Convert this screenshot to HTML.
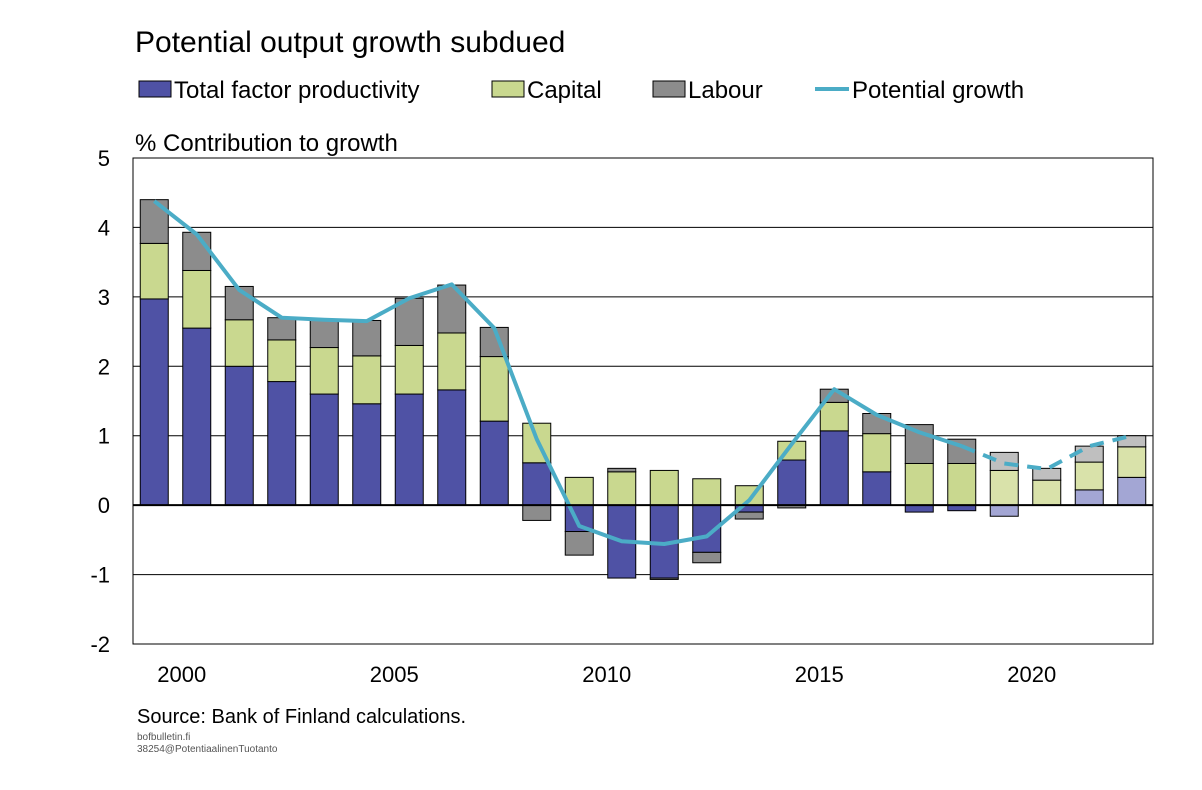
<!DOCTYPE html>
<html><head><meta charset="utf-8"><style>
body{margin:0;background:#fff;font-family:"Liberation Sans",sans-serif;}
</style></head><body>
<svg width="1202" height="785" xmlns="http://www.w3.org/2000/svg" font-family="Liberation Sans, sans-serif">
<text x="135" y="52" font-size="30" fill="#000">Potential output growth subdued</text>
<g font-size="24">
<g><rect x="139" y="81" width="32" height="16" fill="#4F52A5" stroke="#000"/><text x="174" y="98">Total factor productivity</text></g>
<g><rect x="492" y="81" width="32" height="16" fill="#C9D88F" stroke="#000"/><text x="527" y="98">Capital</text></g>
<g><rect x="653" y="81" width="32" height="16" fill="#8C8C8C" stroke="#000"/><text x="688" y="98">Labour</text></g>
<g><line x1="815" y1="89" x2="849" y2="89" stroke="#4BACC6" stroke-width="4"/><text x="852" y="98">Potential growth</text></g>
</g>
<text x="135" y="151" font-size="24">% Contribution to growth</text>
<g id="grid"></g>
<g id="bars"></g>
<g id="lines"></g>
<g id="axes"></g>
<text x="137" y="723" font-size="20">Source: Bank of Finland calculations.</text>
<text x="137" y="740" font-size="10" fill="#555">bofbulletin.fi</text>
<text x="137" y="752" font-size="10" fill="#555">38254@PotentiaalinenTuotanto</text>
</svg>
<script>
const years=[1999,2000,2001,2002,2003,2004,2005,2006,2007,2008,2009,2010,2011,2012,2013,2014,2015,2016,2017,2018,2019,2020,2021,2022];
const tfp=[2.97,2.55,2.0,1.78,1.6,1.46,1.6,1.66,1.21,0.61,-0.38,-1.05,-1.05,-0.68,-0.1,0.65,1.07,0.48,-0.1,-0.08,-0.16,0,0.22,0.4];
const capital=[0.8,0.83,0.67,0.6,0.67,0.69,0.7,0.82,0.93,0.57,0.4,0.48,0.5,0.38,0.28,0.27,0.41,0.55,0.6,0.6,0.5,0.36,0.4,0.44];
const labour=[0.63,0.55,0.48,0.32,0.4,0.51,0.68,0.69,0.42,-0.22,-0.34,0.05,-0.02,-0.15,-0.1,-0.04,0.19,0.29,0.56,0.35,0.26,0.17,0.23,0.16];
const potential=[4.38,3.9,3.1,2.7,2.67,2.65,2.98,3.18,2.55,0.95,-0.3,-0.52,-0.56,-0.45,0.07,0.88,1.67,1.3,1.05,0.85,0.6,0.52,0.85,1.0];
const forecastStart=2019;
const yTicks=[5,4,3,2,1,0,-1,-2];
const xLabels=[2000,2005,2010,2015,2020];
const NS="http://www.w3.org/2000/svg";
const X0=133,X1=1153,Y0=158,Y1=644,ymax=5,ymin=-2;
const step=(X1-X0)/years.length, bw=28;
const y=v=>Y0+(ymax-v)*(Y1-Y0)/(ymax-ymin);
const xc=i=>X0+step*(i+0.5);
function mk(tag,at,parent){const e=document.createElementNS(NS,tag);for(const k in at)e.setAttribute(k,at[k]);document.getElementById(parent).appendChild(e);return e;}
yTicks.forEach(t=>{
 if(t!==ymin&&t!==0){const l=mk('line',{x1:X0,x2:X1,y1:y(t),y2:y(t),stroke:'#000','stroke-width':1},'grid');
 
 }
 const tx=mk('text',{x:110,y:y(t)+8,'font-size':22,'text-anchor':'end'},'axes');tx.textContent=t;
 
 
});
const fr=mk('rect',{x:X0,y:Y0,width:X1-X0,height:Y1-Y0,fill:'none',stroke:'#000'},'axes');


const zl=mk('line',{x1:X0,x2:X1,y1:y(0),y2:y(0),stroke:'#000','stroke-width':2},'axes');


xLabels.forEach(yr=>{const i=years.indexOf(yr);
 const tx=mk('text',{x:xc(i)-15,y:682,'font-size':22,'text-anchor':'middle'},'axes');tx.textContent=yr;
 
 });
years.forEach((yr,i)=>{
 const fc=yr>=forecastStart;
 const cols=fc?['#A3A6D4','#D9E2AA','#BFBFBF']:['#4F52A5','#C9D88F','#8C8C8C'];
 const names=['bar-tfp','bar-capital','bar-labour'];
 let pos=0,neg=0;
 [tfp[i],capital[i],labour[i]].forEach((v,k)=>{
  let a,b; if(v>=0){a=pos;b=pos+v;pos=b;}else{a=neg;b=neg+v;neg=b;}
  const top=y(Math.max(a,b)),h=Math.abs(y(a)-y(b));
  const r=mk('rect',{x:xc(i)-bw/2,y:top,width:bw,height:h,fill:cols[k],stroke:'#000','stroke-width':1},'bars');
  
  
 });
});
const fi=years.indexOf(forecastStart)-1;
const solid=potential.slice(0,fi+1).map((v,i)=>xc(i)+','+y(v)).join(' ');
const dashed=potential.slice(fi).map((v,j)=>xc(j+fi)+','+y(v)).join(' ');
const l1=mk('polyline',{points:solid,fill:'none',stroke:'#4BACC6','stroke-width':4,'stroke-linejoin':'round'},'lines');


const l2=mk('polyline',{points:dashed,fill:'none',stroke:'#4BACC6','stroke-width':4,'stroke-dasharray':'14,9'},'lines');


</script>
</body></html>
